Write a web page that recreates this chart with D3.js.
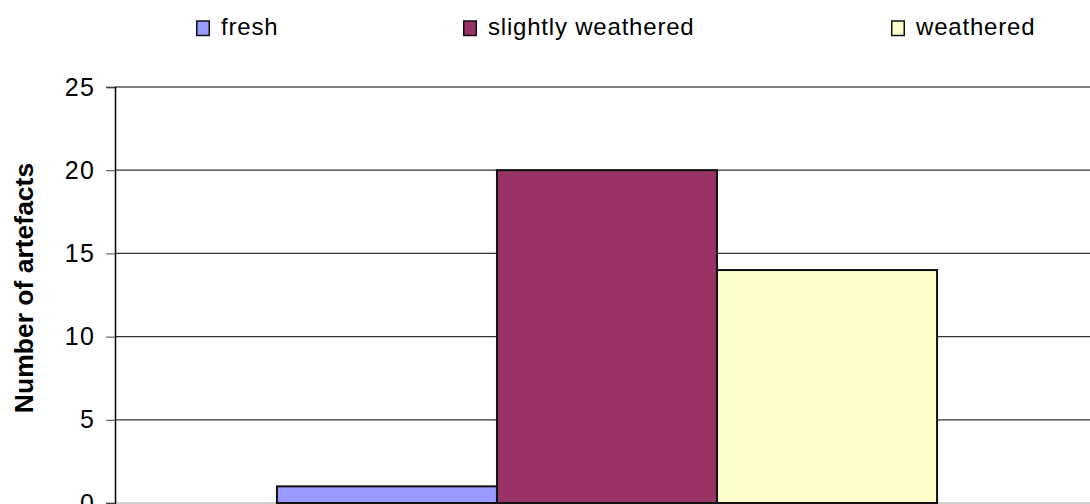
<!DOCTYPE html>
<html>
<head>
<meta charset="utf-8">
<script src="https://cdn.jsdelivr.net/npm/d3@7"></script>
<style>
  html, body { margin: 0; padding: 0; background: #fff; overflow: hidden; }
  svg { display: block; font-family: "Liberation Sans", Arial, sans-serif; }
</style>
</head>
<body>
<div id="chart"></div>
<script>
// data
const series = ["fresh", "slightly weathered", "weathered"];
const counts = [1, 20, 14];
const colors = ["#9999ff", "#993366", "#ffffcc"];
const yTicks = [0, 5, 10, 15, 20, 25];
const yLabel = "Number of artefacts";

const width = 1090, height = 504;
// plot area runs past the right edge of the picture (cropped chart)
const margin = { left: 115, right: -9, top: 87, bottom: 1 };

const svg = d3.select("#chart").append("svg")
    .attr("width", width)
    .attr("height", height);

const x = d3.scaleBand()
    .domain(series)
    .range([margin.left, width - margin.right])
    .paddingInner(0)
    .paddingOuter(0.736);

const y = d3.scaleLinear()
    .domain([0, 25])
    .range([height - margin.bottom, margin.top]);

// gridlines
svg.append("g")
    .selectAll("line")
    .data(yTicks)
    .join("line")
    .attr("x1", margin.left)
    .attr("x2", width - margin.right)
    .attr("y1", (d) => y(d))
    .attr("y2", (d) => y(d))
    .attr("stroke", (d) => d === 25 ? "#808080" : (d === 0 ? "#a0a0a0" : "#333"))
    .attr("stroke-width", (d) => d === 25 ? 2 : 1.2);

// bars
svg.append("g")
    .selectAll("rect")
    .data(counts)
    .join("rect")
    .attr("x", (_, i) => x(series[i]))
    .attr("y", (d) => y(d))
    .attr("width", x.bandwidth())
    .attr("height", (d) => y(0) - y(d))
    .attr("fill", (_, i) => colors[i])
    .attr("stroke", "#111")
    .attr("stroke-width", 2);

// y axis
const yAxis = d3.axisLeft(y)
    .tickValues(yTicks)
    .tickSize(9)
    .tickPadding(12);

const axisG = svg.append("g")
    .attr("transform", `translate(${margin.left},0)`)
    .call(yAxis);
axisG.select(".domain").attr("stroke", "#000").attr("stroke-width", 1.5);
axisG.selectAll(".tick line").attr("stroke", "#444");
axisG.selectAll(".tick text")
    .attr("font-size", 25)
    .attr("letter-spacing", 1.5)
    .attr("dx", 1.5)
    .attr("font-family", "Liberation Sans, Arial, sans-serif")
    .attr("fill", "#000");

svg.append("text")
    .attr("transform", `translate(33,288) rotate(-90)`)
    .attr("text-anchor", "middle")
    .attr("font-size", 26.5)
    .attr("font-weight", "bold")
    .text(yLabel);

// legend
const legendX = [196, 463, 891];
const legend = svg.append("g")
    .selectAll("g")
    .data(series)
    .join("g")
    .attr("transform", (_, i) => `translate(${legendX[i]},0)`);

legend.append("rect")
    .attr("x", 0.75)
    .attr("y", 21)
    .attr("width", 12.5)
    .attr("height", 14.5)
    .attr("fill", (_, i) => colors[i])
    .attr("stroke", "#111")
    .attr("stroke-width", 1.5);

legend.append("text")
    .attr("x", 25)
    .attr("y", 34.5)
    .attr("font-size", 24)
    .attr("letter-spacing", 0.8)
    .text((d) => d);
</script>
</body>
</html>
